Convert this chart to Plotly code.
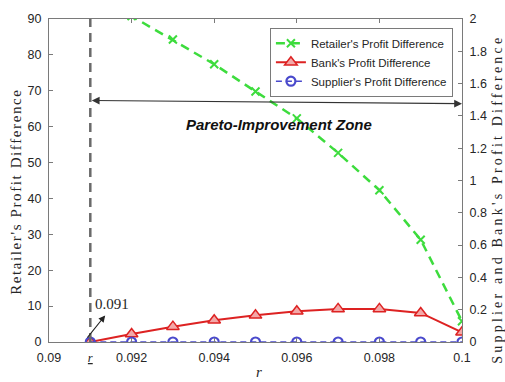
import plotly.graph_objects as go

# Interest rate grid
r_values = [0.091, 0.092, 0.093, 0.094, 0.095, 0.096, 0.097, 0.098, 0.099, 0.100]

# Profit differences
retailer_diff = [97.5, 90.8, 84.3, 77.4, 69.8, 62.3, 52.7, 42.3, 28.5, 5.8]
bank_diff = [0.0, 0.05, 0.095, 0.135, 0.165, 0.19, 0.205, 0.205, 0.18, 0.06]
supplier_diff = [0, 0, 0, 0, 0, 0, 0, 0, 0, 0]

# Axis ticks
x_tickvals = [0.09, 0.091, 0.092, 0.094, 0.096, 0.098, 0.1]
x_ticktext = ["0.09",
              "<span style='font-family:Liberation Serif'><u><i>r</i></u></span>",
              "0.092", "0.094", "0.096", "0.098", "0.1"]
y1_tickvals = [0, 10, 20, 30, 40, 50, 60, 70, 80, 90]
y2_tickvals = [0, 0.2, 0.4, 0.6, 0.8, 1.0, 1.2, 1.4, 1.6, 1.8, 2.0]
y2_ticktext = ["0", "0.2", "0.4", "0.6", "0.8", "1", "1.2", "1.4", "1.6", "1.8", "2"]

r_threshold = 0.091

AX = "#7a7a7a"
TXT = "#262626"
SANS = "Liberation Sans, Arial, sans-serif"
SERIF = "Liberation Serif, Times New Roman, serif"

fig = go.Figure()

fig.add_trace(go.Scatter(
    x=r_values, y=retailer_diff, name="Retailer's Profit Difference",
    mode="lines+markers",
    line=dict(color="#3ddc3d", width=2.5, dash="9px,6px"),
    marker=dict(symbol="x-thin", size=8, line=dict(color="#3ddc3d", width=2)),
    yaxis="y",
))
fig.add_trace(go.Scatter(
    x=r_values, y=bank_diff, name="Bank's Profit Difference",
    mode="lines+markers",
    line=dict(color="#dd2222", width=2),
    marker=dict(symbol="triangle-up", size=11, color="#f3a8a8",
                line=dict(color="#dd2222", width=1.5)),
    yaxis="y2",
))
fig.add_trace(go.Scatter(
    x=r_values, y=supplier_diff, name="Supplier's Profit Difference",
    mode="lines+markers",
    line=dict(color="#4a4acc", width=1.5, dash="6px,4px"),
    marker=dict(symbol="circle-open", size=9, line=dict(color="#0f0fcc", width=2.2)),
    yaxis="y2",
))

# Threshold marker line
fig.add_shape(type="line", xref="x", yref="y domain",
              x0=r_threshold, x1=r_threshold, y0=0, y1=1,
              line=dict(color="#6a6a6a", width=2.5, dash="9px,6px"))

annotations = [
    # Double-headed arrow spanning the zone
    dict(x=0.1, y=66.4, ax=r_threshold, ay=67.3, xref="x", yref="y",
         axref="x", ayref="y", text="", showarrow=True,
         arrowhead=2, startarrowhead=2, arrowside="end+start",
         arrowsize=1.3, arrowwidth=1.2, arrowcolor="#333333", standoff=0, startstandoff=0),
    dict(x=0.09558, y=60.7, xref="x", yref="y", text="<b><i>Pareto-Improvement Zone</i></b>",
         showarrow=False, font=dict(family=SANS, size=15, color="#111111")),
    # Threshold value callout
    dict(x=0.09136, y=7.4, ax=0.0909, ay=0.8, xref="x", yref="y",
         axref="x", ayref="y", text="", showarrow=True,
         arrowhead=2, arrowsize=1.2, arrowwidth=1.1, arrowcolor="#222222", standoff=0),
    dict(x=0.091529, y=10.7, xref="x", yref="y", text="0.091", showarrow=False,
         font=dict(family=SERIF, size=15, color=TXT)),
]

fig.update_layout(
    width=505, height=382,
    margin=dict(l=49, r=43, t=14, b=40),
    paper_bgcolor="white", plot_bgcolor="white",
    showlegend=True,
    legend=dict(x=0.978, y=0.973, xanchor="right", yanchor="top",
                bgcolor="white", bordercolor=AX, borderwidth=1,
                font=dict(family=SANS, size=11.5, color=TXT),
                tracegroupgap=0, itemwidth=30),
    xaxis=dict(range=[0.09, 0.1], tickvals=x_tickvals, ticktext=x_ticktext,
               ticks="inside", ticklen=4, tickcolor=AX, showline=True, linecolor=AX,
               linewidth=1, mirror="ticks", showgrid=False, zeroline=False,
               tickfont=dict(family=SANS, size=12.5, color=TXT), ticklabelstandoff=4),
    yaxis=dict(range=[0, 90], tickvals=y1_tickvals, ticks="inside", ticklen=4,
               tickcolor=AX, showline=True, linecolor=AX, linewidth=1,
               showgrid=False, zeroline=False,
               tickfont=dict(family=SANS, size=12.5, color=TXT), ticklabelstandoff=4),
    yaxis2=dict(range=[0, 2], tickvals=y2_tickvals, ticktext=y2_ticktext,
                overlaying="y", side="right", ticks="inside", ticklen=4,
                tickcolor=AX, showline=True, linecolor=AX, linewidth=1,
                showgrid=False, zeroline=False,
                tickfont=dict(family=SANS, size=12.5, color=TXT), ticklabelstandoff=4),
)

# Axis titles placed in pixel terms relative to the plot area
pw, ph = 505 - 49 - 43, 382 - 14 - 40


def px_to_paper(px, py):
    return (px - 49) / pw, (382 - 40 - py) / ph


titles = [
    (16.5, 190, "<span style='letter-spacing:1.6px'>Retailer's Profit Difference</span>", -90, 15),
    (498, 197.5, "<span style='letter-spacing:3.2px'>Supplier and Bank's Profit Difference</span>", -90, 14),
    (259, 372, "<i>r</i>", 0, 15),
]
for tx, ty, txt, ang, fs in titles:
    xp, yp = px_to_paper(tx, ty)
    annotations.append(dict(x=xp, y=yp, xref="paper", yref="paper", text=txt,
                            showarrow=False, textangle=ang, xanchor="center",
                            yanchor="middle",
                            font=dict(family=SERIF, size=fs, color=TXT)))

fig.update_layout(annotations=annotations)

fig.write_html("out.html")
